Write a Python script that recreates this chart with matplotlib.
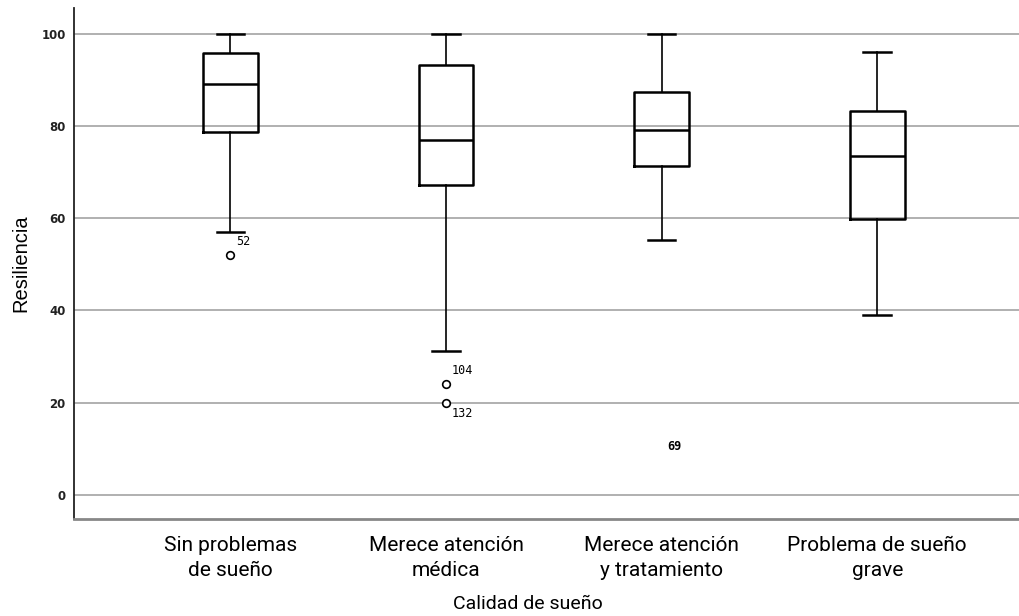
import matplotlib
matplotlib.use("Agg")
import matplotlib.pyplot as plt
from matplotlib import font_manager

categories = ["Sin problemas\nde sueño", "Merece atención\nmédica",
              "Merece atención\ny tratamiento", "Problema de sueño\ngrave"]
whislo = [57.0, 31.1, 55.2, 39.1]
q1 = [78.6, 67.2, 71.2, 59.9]
med = [89.1, 77.0, 79.2, 73.5]
q3 = [95.7, 93.1, 87.3, 83.2]
whishi = [100.0, 100.0, 100.0, 96.0]
outliers = [[52.0], [24.0, 20.0], [], []]
outlier_ids = [["52"], ["104", "132"], [], []]
extra_label_x = 2
extra_label_y = 10.6
extra_label = "69"
yticks = [0, 20, 40, 60, 80, 100]

names = {f.name for f in font_manager.fontManager.ttflist}
cat_font = "Liberation Sans Narrow" if "Liberation Sans Narrow" in names else "Roboto"

fig = plt.figure(figsize=(10.19, 6.16), dpi=100)
ax = fig.add_axes([0.0726, 0.1575, 0.93, 0.83])

stats = []
for i in range(len(categories)):
    stats.append(dict(whislo=whislo[i], q1=q1[i], med=med[i], q3=q3[i],
                      whishi=whishi[i], fliers=outliers[i]))

ax.bxp(stats, positions=range(len(categories)), widths=0.255, showfliers=True,
       boxprops=dict(color="black", linewidth=1.8),
       medianprops=dict(color="black", linewidth=1.8),
       whiskerprops=dict(color="black", linewidth=1.2),
       capprops=dict(color="black", linewidth=1.8),
       flierprops=dict(marker="o", markersize=5.5, markerfacecolor="white",
                       markeredgecolor="black", markeredgewidth=1.2),
       zorder=3)

for i, (vals, ids) in enumerate(zip(outliers, outlier_ids)):
    for j, (v, lab) in enumerate(zip(vals, ids)):
        if i == 1 and j == 1:
            ax.annotate(lab, (i, v), xytext=(4, -3), textcoords="offset points",
                        ha="left", va="top", fontsize=8.5, family="DejaVu Sans Mono")
        else:
            ax.annotate(lab, (i, v), xytext=(4, 5), textcoords="offset points",
                        ha="left", va="bottom", fontsize=8.5, family="DejaVu Sans Mono")
ax.annotate(extra_label, (extra_label_x, extra_label_y), xytext=(9, 0),
            textcoords="offset points", ha="center", va="center",
            fontsize=8.5, family="DejaVu Sans Mono", fontweight="bold")

ax.set_xlim(-0.7256, 3.67)
ax.set_ylim(-5.2, 105.6)
ax.set_yticks(yticks)
ax.set_yticklabels([str(t) for t in yticks], fontsize=8.5, fontweight="bold",
                   color="#222222")
ax.set_xticks(range(len(categories)))
ax.set_xticklabels(categories, fontsize=15, family=cat_font, linespacing=1.45)
ax.tick_params(axis="both", length=0)
ax.tick_params(axis="x", pad=12)
ax.tick_params(axis="y", pad=6)
ax.yaxis.grid(True, color="#aaaaaa", linewidth=1.3, zorder=0)
ax.set_axisbelow(True)

ax.spines["top"].set_visible(False)
ax.spines["right"].set_visible(False)
ax.spines["left"].set_color("#222222")
ax.spines["left"].set_linewidth(1.3)
ax.spines["bottom"].set_color("#888888")
ax.spines["bottom"].set_linewidth(2.0)

ax.set_ylabel("Resiliencia", fontsize=14.5, family="Liberation Sans", labelpad=8)
ax.set_xlabel("Calidad de sueño", fontsize=14, family=cat_font)
ax.xaxis.set_label_coords(0.479, -0.148)

fig.savefig("out.png", dpi=100)
